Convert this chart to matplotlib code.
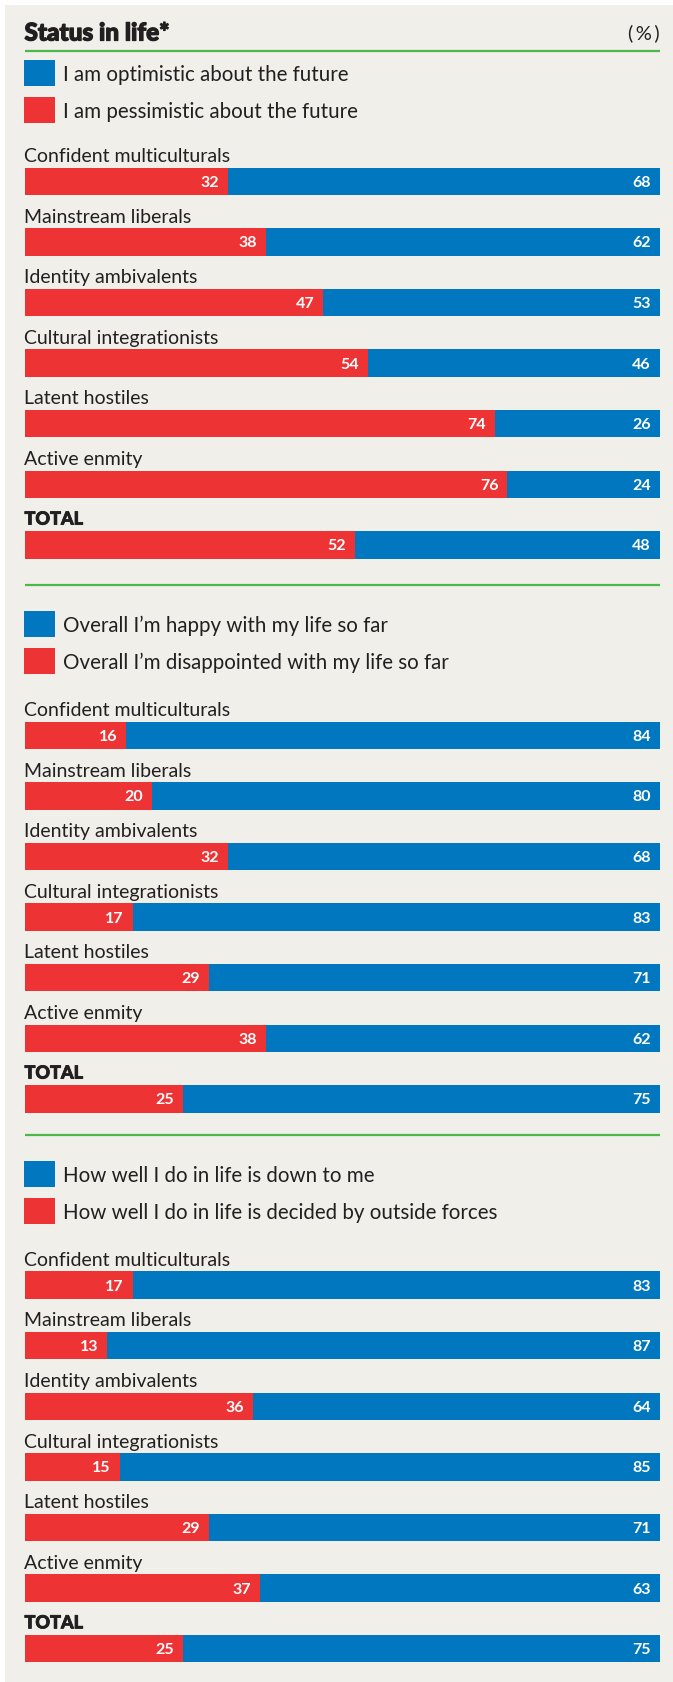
import matplotlib.pyplot as plt
from matplotlib.patches import Rectangle
import matplotlib.patheffects as pe

# ---- data -------------------------------------------------------------
groups = ["Confident multiculturals", "Mainstream liberals", "Identity ambivalents",
          "Cultural integrationists", "Latent hostiles", "Active enmity", "TOTAL"]

legend_blue = ["I am optimistic about the future",
               "Overall I\u2019m happy with my life so far",
               "How well I do in life is down to me"]
legend_red = ["I am pessimistic about the future",
              "Overall I\u2019m disappointed with my life so far",
              "How well I do in life is decided by outside forces"]

pessimistic = [32, 38, 47, 54, 74, 76, 52]
optimistic = [68, 62, 53, 46, 26, 24, 48]
disappointed = [16, 20, 32, 17, 29, 38, 25]
happy = [84, 80, 68, 83, 71, 62, 75]
outside_forces = [17, 13, 36, 15, 29, 37, 25]
down_to_me = [83, 87, 64, 85, 71, 63, 75]

red_series = [pessimistic, disappointed, outside_forces]
blue_series = [optimistic, happy, down_to_me]

title = "Status in life*"
unit = "(\u2009%\u2009)"

# ---- style ------------------------------------------------------------
BLUE = "#0077BE"
RED = "#EE3335"
GREEN = "#4DB848"
PANEL = "#F0EFEA"
INK = "#231F20"
FONT = ["Lato", "DejaVu Sans"]

W, H = 673, 1683
X0, X1 = 24.5, 660.0          # horizontal extent of the bars (px)
green_y = [52.0, 585.5, 1135.5]
legend_top = [61.0, 612.0, 1162.0]
first_bar = [168.5, 722.5, 1272.3]
pitch = 60.6
bar_h = 27.5
sq_w, sq_h = 31.0, 26.0

plt.rcParams["font.family"] = FONT

fig = plt.figure(figsize=(W / 100, H / 100), dpi=100, facecolor="white")
fig.patches.append(Rectangle((5 / W, 0), 1 - 5 / W, 1 - 6 / H,
                             transform=fig.transFigure, facecolor=PANEL,
                             edgecolor="none", zorder=-10))

ax = fig.add_axes([X0 / W, 0, (X1 - X0) / W, 1])
ax.set_zorder(5)
ax.set_xlim(0, 100)
ax.set_ylim(H, 0)
ax.axis("off")


def px(x):
    """Convert a horizontal pixel position to the 0-100 bar scale."""
    return (x - X0) / (X1 - X0) * 100


pad = px(X0 + 9)  # gap between a value label and the end of its bar
heavy = [pe.withStroke(linewidth=0.9, foreground=INK)]

# title row
ax.text(0, 34, title, fontsize=17.5, fontweight="black", color=INK,
        va="center", ha="left", clip_on=False, path_effects=heavy)
ax.text(100, 33, unit, fontsize=14.5, color=INK, va="center", ha="right")

for s in range(3):
    # divider
    ax.plot([0, 100], [green_y[s], green_y[s]], color=GREEN, lw=1.6,
            solid_capstyle="butt")

    # legend keys
    for k, (lab, col) in enumerate([(legend_blue[s], BLUE), (legend_red[s], RED)]):
        top = legend_top[s] + k * 37.0
        ax.add_patch(Rectangle((px(24.0), top), px(24.0 + sq_w) - px(24.0), sq_h,
                               facecolor=col, edgecolor="none", clip_on=False))
        ax.text(px(63), top + sq_h / 2 + 1, lab, fontsize=14.8, color=INK,
                va="center", ha="left")

    reds = red_series[s]
    blues = blue_series[s]
    for i, g in enumerate(groups):
        top = first_bar[s] + i * pitch
        yc = top + bar_h / 2
        ax.barh(yc, reds[i], left=0, height=bar_h, color=RED, linewidth=0)
        ax.barh(yc, blues[i], left=reds[i], height=bar_h, color=BLUE, linewidth=0)
        ax.text(reds[i] - pad, yc + 0.5, str(reds[i]),
                fontsize=11.5, fontweight="bold", color="white",
                va="center", ha="right")
        ax.text(reds[i] + blues[i] - pad, yc + 0.5, str(blues[i]),
                fontsize=11.5, fontweight="bold", color="white",
                va="center", ha="right")
        if g == "TOTAL":
            ax.text(0, top - 6.5, g, fontsize=13, fontweight="black", color=INK,
                    va="baseline", ha="left",
                    path_effects=[pe.withStroke(linewidth=0.6, foreground=INK)])
        else:
            ax.text(0, top - 6.5, g, fontsize=14, color=INK,
                    va="baseline", ha="left")

fig.savefig("out.png", dpi=100, facecolor="white")
